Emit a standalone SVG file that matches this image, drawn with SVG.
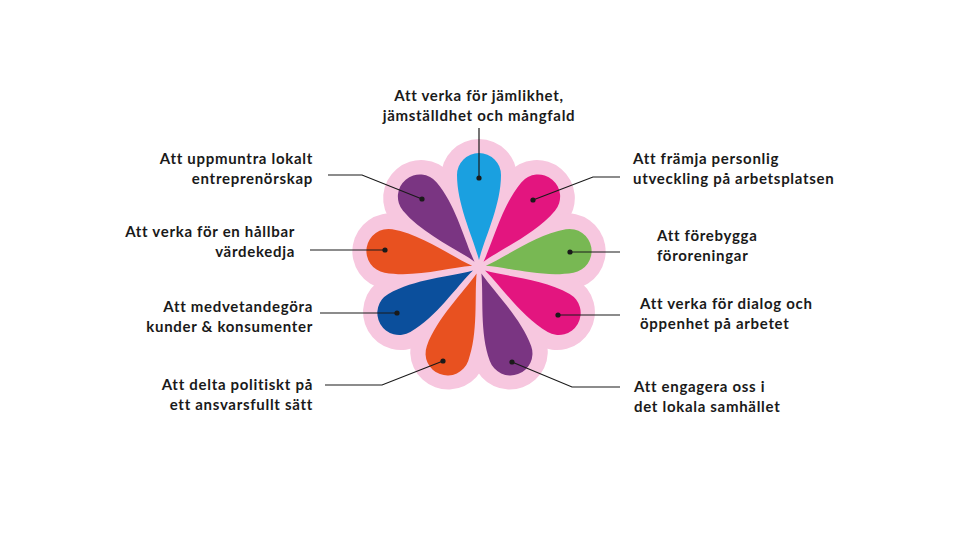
<svg xmlns="http://www.w3.org/2000/svg" width="960" height="548" viewBox="0 0 960 548">
<defs>
<style>
text{font-family:Lato,"Liberation Sans",sans-serif;font-weight:700;font-size:15px;letter-spacing:0.7px;fill:#1a1a1a}
.r{text-anchor:end}.m{text-anchor:middle}
.c path{fill:none;stroke:#1a1a1a;stroke-width:1.2}
.c circle{fill:#1a1a1a}
</style>
<path id="p" d="M7,0 C30,-6 62,-22 92,-22 A22,22 0 0 1 92,22 C62,22 30,6 7,0Z"/>
</defs>
<rect width="960" height="548" fill="#fff"/>
<g id="bg" fill="#f7c7df" transform="translate(479,267)">
<circle r="106"/>
<g id="bgc">
<circle cx="90" r="38" transform="rotate(-90)"/><circle cx="90" r="38" transform="rotate(-50)"/><circle cx="90" r="38" transform="rotate(-10)"/><circle cx="90" r="38" transform="rotate(30)"/><circle cx="90" r="38" transform="rotate(70)"/><circle cx="90" r="38" transform="rotate(110)"/><circle cx="90" r="38" transform="rotate(150)"/><circle cx="90" r="38" transform="rotate(190)"/><circle cx="90" r="38" transform="rotate(230)"/>
</g>
</g>
<g id="petals" transform="translate(479,267)">
<use href="#p" fill="#1aa0e0" transform="rotate(-90)"/>
<use href="#p" fill="#e3157f" transform="rotate(-50)"/>
<use href="#p" fill="#78b853" transform="rotate(-10)"/>
<use href="#p" fill="#e3157f" transform="rotate(30)"/>
<use href="#p" fill="#7a3582" transform="rotate(70)"/>
<use href="#p" fill="#e85120" transform="rotate(110)"/>
<use href="#p" fill="#0b4f9c" transform="rotate(150)"/>
<use href="#p" fill="#e85120" transform="rotate(190)"/>
<use href="#p" fill="#7a3582" transform="rotate(230)"/>
</g>
<g id="connectors" class="c">
<path d="M479,178 V128"/><circle cx="479" cy="178" r="2.6"/>
<path d="M422,199 L362,175 H328"/><circle cx="422" cy="199" r="2.6"/>
<path d="M385,250 H310"/><circle cx="385" cy="250" r="2.6"/>
<path d="M397,313 H320"/><circle cx="397" cy="313" r="2.6"/>
<path d="M443,361 L382,385 H325"/><circle cx="443" cy="361" r="2.6"/>
<path d="M512,362 L572,387 H620"/><circle cx="512" cy="362" r="2.6"/>
<path d="M558,315 H620"/><circle cx="558" cy="315" r="2.6"/>
<path d="M570,252 H620"/><circle cx="570" cy="252" r="2.6"/>
<path d="M533,200 L593,177 H620"/><circle cx="533" cy="200" r="2.6"/>
</g>
<g id="n1"><text class="m" x="479" y="101">Att verka för jämlikhet,</text><text class="m" x="479" y="121">jämställdhet och mångfald</text></g>
<g id="n2"><text class="r" x="313" y="164">Att uppmuntra lokalt</text><text class="r" x="313" y="184">entreprenörskap</text></g>
<g id="n3"><text class="r" x="295" y="237">Att verka för en hållbar</text><text class="r" x="295" y="257">värdekedja</text></g>
<g id="n4"><text class="r" x="313" y="312">Att medvetandegöra</text><text class="r" x="313" y="332">kunder &amp; konsumenter</text></g>
<g id="n5"><text class="r" x="313" y="390">Att delta politiskt på</text><text class="r" x="313" y="410">ett ansvarsfullt sätt</text></g>
<g id="n6"><text x="634" y="392">Att engagera oss i</text><text x="634" y="412">det lokala samhället</text></g>
<g id="n7"><text x="640" y="309">Att verka för dialog och</text><text x="640" y="329">öppenhet på arbetet</text></g>
<g id="n8"><text x="657" y="241">Att förebygga</text><text x="657" y="261">föroreningar</text></g>
<g id="n9"><text x="633" y="164">Att främja personlig</text><text x="633" y="184">utveckling på arbetsplatsen</text></g>
</svg>
